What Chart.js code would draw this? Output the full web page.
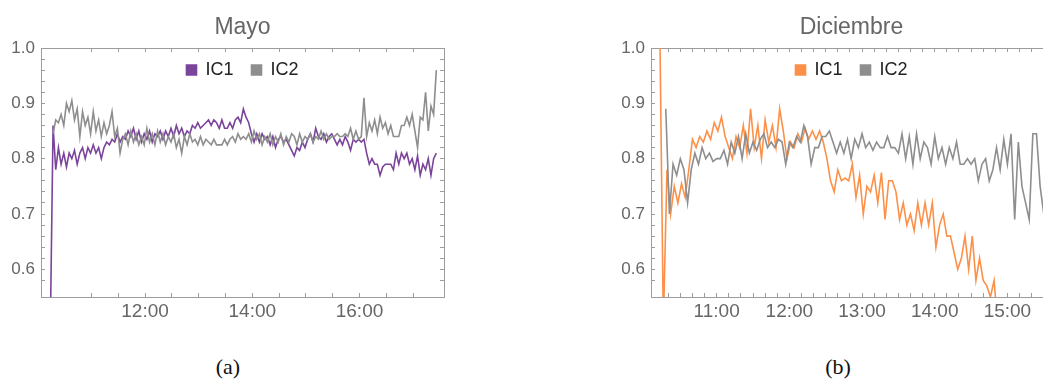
<!DOCTYPE html>
<html>
<head>
<meta charset="utf-8">
<script src="https://cdn.jsdelivr.net/npm/chart.js@4.4.1/dist/chart.umd.min.js"></script>
<style>
  html, body { margin: 0; padding: 0; background: #fff; }
  body { width: 1043px; height: 380px; overflow: hidden; position: relative; }
  canvas { position: absolute; top: 0; }
  #mayo { left: 0; }
  #diciembre { left: 600px; }
  .caption {
    position: absolute; top: 354px; width: 60px; text-align: center;
    font-family: 'Liberation Serif', 'DejaVu Serif', serif; font-size: 22px; color: #111;
  }
</style>
</head>
<body>
<canvas id="mayo" width="485" height="330"></canvas>
<canvas id="diciembre" width="470" height="330"></canvas>
<div class="caption" style="left:198px">(a)</div>
<div class="caption" style="left:808px">(b)</div>
<script>
// --------------------
// Data
// --------------------
const seriesNames = ['IC1', 'IC2'];
const yTickLabels = ['0.6', '0.7', '0.8', '0.9', '1.0'];
const mayoTickLabels = ['12:00', '14:00', '16:00'];
const dicTickLabels = ['11:00', '12:00', '13:00', '14:00', '15:00'];

// one reading every 3 minutes; starts are minutes after midnight
const sampleStep = 3;
const mayoStartIC1 = 614;  // 10:14
const mayoStartIC2 = 617;  // 10:17
const dicStartIC1 = 613;   // 10:13
const dicStartIC2 = 618;   // 10:18

const mayoIC1 = [
  0.50, 0.86, 0.78, 0.82, 0.79, 0.81, 0.785, 0.81, 0.80, 0.815,
  0.79, 0.81, 0.82, 0.80, 0.82, 0.81, 0.825, 0.81, 0.82, 0.80,
  0.82, 0.83, 0.825, 0.835, 0.83, 0.845, 0.83, 0.84, 0.835, 0.85,
  0.84, 0.855, 0.835, 0.85, 0.83, 0.845, 0.835, 0.85, 0.83, 0.845,
  0.84, 0.85, 0.835, 0.85, 0.84, 0.855, 0.84, 0.86, 0.845, 0.855,
  0.84, 0.85, 0.845, 0.86, 0.855, 0.865, 0.855, 0.86, 0.865, 0.87,
  0.86, 0.87, 0.865, 0.855, 0.87, 0.855, 0.855, 0.865, 0.855, 0.87,
  0.875, 0.865, 0.89, 0.875, 0.865, 0.845, 0.83, 0.845, 0.83, 0.845,
  0.835, 0.84, 0.825, 0.84, 0.82, 0.835, 0.84, 0.83, 0.835, 0.825,
  0.815, 0.805, 0.82, 0.815, 0.83, 0.82, 0.835, 0.845, 0.83, 0.855,
  0.84, 0.835, 0.845, 0.83, 0.84, 0.845, 0.835, 0.825, 0.835, 0.825,
  0.84, 0.83, 0.815, 0.835, 0.83, 0.835, 0.83, 0.835, 0.81, 0.79,
  0.80, 0.79, 0.79, 0.77, 0.785, 0.79, 0.79, 0.79, 0.78, 0.81,
  0.79, 0.81, 0.80, 0.81, 0.79, 0.80, 0.78, 0.805, 0.77, 0.79,
  0.78, 0.80, 0.77, 0.80, 0.81
];

const mayoIC2 = [
  0.845, 0.87, 0.865, 0.88, 0.86, 0.90, 0.885, 0.905, 0.87, 0.89,
  0.84, 0.885, 0.86, 0.875, 0.845, 0.885, 0.85, 0.87, 0.84, 0.865,
  0.845, 0.86, 0.885, 0.84, 0.855, 0.81, 0.835, 0.845, 0.825, 0.85,
  0.83, 0.845, 0.825, 0.84, 0.825, 0.855, 0.83, 0.845, 0.825, 0.85,
  0.83, 0.845, 0.825, 0.84, 0.83, 0.845, 0.82, 0.835, 0.81, 0.84,
  0.825, 0.845, 0.83, 0.835, 0.825, 0.84, 0.825, 0.835, 0.83, 0.825,
  0.835, 0.825, 0.825, 0.825, 0.835, 0.825, 0.835, 0.84, 0.83, 0.845,
  0.835, 0.84, 0.835, 0.845, 0.83, 0.85, 0.835, 0.845, 0.825, 0.84,
  0.83, 0.845, 0.825, 0.84, 0.83, 0.845, 0.825, 0.84, 0.83, 0.845,
  0.84, 0.825, 0.845, 0.83, 0.84, 0.835, 0.845, 0.83, 0.84, 0.835,
  0.85, 0.835, 0.845, 0.835, 0.84, 0.84, 0.845, 0.84, 0.84, 0.845,
  0.84, 0.855, 0.835, 0.85, 0.835, 0.84, 0.91, 0.84, 0.865, 0.85,
  0.87, 0.845, 0.875, 0.855, 0.865, 0.845, 0.86, 0.84, 0.84, 0.84,
  0.86, 0.86, 0.875, 0.86, 0.88, 0.85, 0.82, 0.875, 0.87, 0.92,
  0.85, 0.895, 0.88, 0.96
];

const dicIC1 = [
  1.05, 0.50, 0.78, 0.70, 0.75, 0.72, 0.755, 0.73, 0.78, 0.835,
  0.82, 0.84, 0.83, 0.85, 0.835, 0.865, 0.85, 0.875, 0.84, 0.82,
  0.80, 0.84, 0.82, 0.86, 0.81, 0.89, 0.82, 0.86, 0.80, 0.87,
  0.83, 0.86, 0.82, 0.89, 0.85, 0.80, 0.83, 0.82, 0.845, 0.83,
  0.855, 0.835, 0.85, 0.835, 0.85, 0.83, 0.80, 0.76, 0.74, 0.78,
  0.76, 0.765, 0.76, 0.79, 0.73, 0.77, 0.70, 0.75, 0.74, 0.77,
  0.72, 0.775, 0.69, 0.76, 0.76, 0.74, 0.69, 0.72, 0.68, 0.70,
  0.67, 0.72, 0.68, 0.72, 0.68, 0.72, 0.64, 0.68, 0.70, 0.66,
  0.66, 0.63, 0.60, 0.62, 0.66, 0.60, 0.66, 0.58, 0.62, 0.58,
  0.57, 0.55, 0.58, 0.50
];

const dicIC2 = [
  0.89, 0.70, 0.79, 0.77, 0.80, 0.78, 0.72, 0.78, 0.81, 0.79,
  0.82, 0.80, 0.81, 0.795, 0.80, 0.80, 0.815, 0.79, 0.83, 0.81,
  0.84, 0.80, 0.845, 0.81, 0.83, 0.815, 0.835, 0.845, 0.82, 0.83,
  0.82, 0.835, 0.83, 0.79, 0.83, 0.82, 0.84, 0.83, 0.86, 0.84,
  0.79, 0.82, 0.82, 0.84, 0.84, 0.85, 0.83, 0.81, 0.83, 0.81,
  0.835, 0.80, 0.835, 0.82, 0.845, 0.82, 0.83, 0.815, 0.83, 0.82,
  0.82, 0.84, 0.82, 0.82, 0.81, 0.845, 0.80, 0.84, 0.79, 0.845,
  0.80, 0.83, 0.82, 0.79, 0.84, 0.80, 0.82, 0.79, 0.82, 0.80,
  0.83, 0.79, 0.79, 0.80, 0.79, 0.80, 0.76, 0.79, 0.80, 0.76,
  0.78, 0.82, 0.78, 0.835, 0.79, 0.845, 0.69, 0.83, 0.75, 0.72,
  0.69, 0.845, 0.845, 0.75, 0.70
];

// --------------------
// Styling
// --------------------
const PURPLE = '#7b449b';
const ORANGE = '#fd9048';
const GRAY = '#8e8e8e';
const FRAME = '#9c9c9c';
const TICK_TEXT = '#666666';
const SANS = "'Liberation Sans', Arial, sans-serif";

Chart.defaults.font.family = SANS;

function toPoints(start, values) {
  return values.map((v, i) => ({ x: start + i * sampleStep, y: v }));
}

function hourLabel(v, labels) {
  const r = Math.round(v);
  if (Math.abs(v - r) > 1e-6 || r % 60 !== 0) return '';
  const s = (r / 60) + ':00';
  return labels.includes(s) ? s : '';
}

function yLabel(v) {
  if (Math.abs(v * 10 - Math.round(v * 10)) > 1e-6) return '';
  const s = v.toFixed(1);
  return yTickLabels.includes(s) ? s : '';
}

function frameScale(extra) {
  return Object.assign({
    type: 'linear',
    grid: { drawOnChartArea: false, drawTicks: true, tickLength: -4, color: FRAME, lineWidth: 1 },
    border: { display: true, color: FRAME, width: 1 }
  }, extra);
}

// moves the legend from the top band into the plot frame
const legendInside = {
  id: 'legendInside',
  afterLayout(chart) {
    const lg = chart.legend;
    const area = chart.chartArea;
    if (!lg || !area) return;
    lg.left = area.left;
    lg.right = area.right;
    lg.width = area.right - area.left;
    lg.top = area.top - 5;
    lg.height = 40;
    lg.bottom = lg.top + lg.height;
  }
};

function makeChart(canvasId, cfg) {
  const ctx = document.getElementById(canvasId);
  return new Chart(ctx, {
    type: 'line',
    data: {
      datasets: [
        { label: seriesNames[0], data: toPoints(cfg.start1, cfg.ic1),
          borderColor: cfg.color1, backgroundColor: cfg.color1, order: 1 },
        { label: seriesNames[1], data: toPoints(cfg.start2, cfg.ic2),
          borderColor: GRAY, backgroundColor: GRAY, order: 0 }
      ]
    },
    options: {
      responsive: false,
      animation: false,
      devicePixelRatio: 1,
      layout: { padding: 0 },
      elements: {
        point: { radius: 0, hoverRadius: 0 },
        line: { borderWidth: 1.6, tension: 0 }
      },
      plugins: {
        tooltip: { enabled: false },
        title: {
          display: true,
          text: cfg.title,
          color: TICK_TEXT,
          fullSize: false,
          font: { family: SANS, size: 23, weight: 'normal', lineHeight: 1 },
          padding: { top: 16, bottom: 0 }
        },
        legend: {
          display: true,
          position: 'top',
          align: 'center',
          maxHeight: 1,
          labels: {
            boxWidth: 10,
            boxHeight: 10,
            padding: 18,
            color: '#222',
            font: { family: SANS, size: 18 },
            sort: (a, b) => a.datasetIndex - b.datasetIndex
          }
        }
      },
      scales: {
        x: frameScale({
          position: 'bottom',
          min: cfg.xMin, max: cfg.xMax,
          ticks: {
            stepSize: cfg.xStep, autoSkip: false, maxRotation: 0, padding: 7,
            color: TICK_TEXT, font: { family: SANS, size: 19 },
            callback: v => hourLabel(v, cfg.xLabels)
          },
          afterFit: s => { s.height = 33; }
        }),
        xTop: frameScale({
          position: 'top',
          min: cfg.xMin, max: cfg.xMax,
          ticks: { stepSize: cfg.xStep, display: false },
          afterFit: s => { s.height = 8; }
        }),
        y: frameScale({
          position: 'left',
          min: 0.55, max: 1.0,
          ticks: {
            stepSize: 0.02, autoSkip: false, padding: 10,
            color: TICK_TEXT, font: { family: SANS, size: 17 },
            callback: v => yLabel(v)
          },
          afterFit: s => { s.width = cfg.leftWidth; }
        }),
        yRight: frameScale({
          position: 'right',
          min: 0.55, max: 1.0,
          ticks: { stepSize: 0.02, display: false },
          afterFit: s => { s.width = cfg.rightWidth; }
        })
      }
    },
    plugins: [legendInside]
  });
}

makeChart('mayo', {
  title: 'Mayo',
  xMin: 603.5, xMax: 1054.6, xStep: 30, xLabels: mayoTickLabels,
  start1: mayoStartIC1, ic1: mayoIC1, start2: mayoStartIC2, ic2: mayoIC2,
  color1: PURPLE, leftWidth: 41, rightWidth: 41
});

makeChart('diciembre', {
  title: 'Diciembre',
  xMin: 605.8, xMax: 936.8, xStep: 10, xLabels: dicTickLabels,
  start1: dicStartIC1, ic1: dicIC1, start2: dicStartIC2, ic2: dicIC2,
  color1: ORANGE, leftWidth: 51, rightWidth: 18
});
</script>
</body>
</html>
